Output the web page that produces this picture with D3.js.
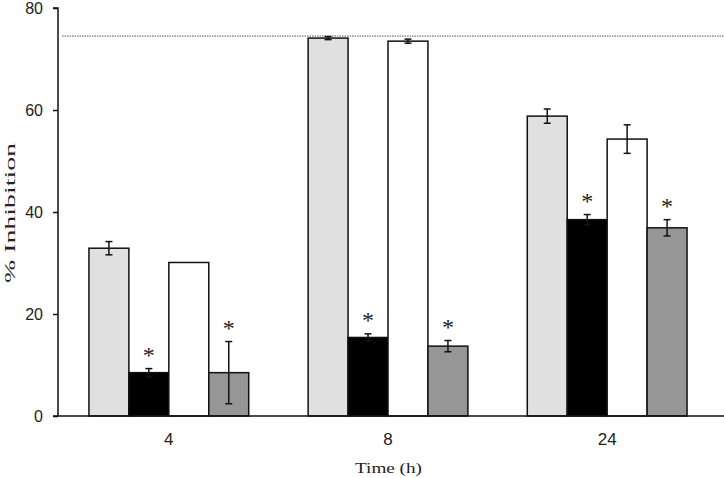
<!DOCTYPE html>
<html><head><meta charset="utf-8">
<script src="https://cdn.jsdelivr.net/npm/d3@7"></script>
<style>body{margin:0;background:#fff}svg{display:block}</style>
</head><body>
<script>
const times = ["4", "8", "24"];
const seriesNames = ["s1", "s2", "s3", "s4"];
const seriesFill = ["#e0e0e0", "#000000", "#ffffff", "#969696"];
const values = [
  [32.9, 8.5, 30.1, 8.5],
  [74.1, 15.4, 73.5, 13.7],
  [58.8, 38.5, 54.3, 36.9]
];
const errors = [
  [1.3, 0.8, 0, 6.1],
  [0.3, 0.7, 0.4, 1.1],
  [1.4, 1.0, 2.8, 1.6]
];
const stars = [
  [false, true, false, true],
  [false, true, false, true],
  [false, true, false, true]
];
const refLine = 74.5;
const yTicks = [0, 20, 40, 60, 80];

const W = 724, H = 478;
const svg = d3.select("body").append("svg").attr("width", W).attr("height", H);

const y = d3.scaleLinear().domain([0, 80]).range([416, 8]);
const x0 = d3.scaleBand().domain(times).range([58, 718]).paddingInner(0.271).paddingOuter(0.1412);
const x1 = d3.scaleBand().domain(seriesNames).range([0, x0.bandwidth()]);

// reference dotted line
svg.append("line").attr("x1", 62).attr("x2", W).attr("y1", y(refLine)).attr("y2", y(refLine))
  .attr("stroke", "#555").attr("stroke-width", 1).attr("stroke-dasharray", "1.5,1");

const groups = svg.selectAll("g.grp").data(times).enter().append("g")
  .attr("transform", d => `translate(${x0(d)},0)`);

groups.each(function(t, gi) {
  const g = d3.select(this);
  seriesNames.forEach((s, si) => {
    const v = values[gi][si], e = errors[gi][si];
    const bx = x1(s), bw = x1.bandwidth();
    g.append("rect").attr("x", bx).attr("y", y(v)).attr("width", bw).attr("height", y(0) - y(v))
      .attr("fill", seriesFill[si]).attr("stroke", "#111").attr("stroke-width", 1.5);
    const cx = bx + bw / 2;
    if (e > 0) {
      g.append("line").attr("x1", cx).attr("x2", cx).attr("y1", y(v + e)).attr("y2", y(v - e))
        .attr("stroke", "#111").attr("stroke-width", 1.5);
      [v + e, v - e].forEach(ev => {
        g.append("line").attr("x1", cx - 3.5).attr("x2", cx + 3.5).attr("y1", y(ev)).attr("y2", y(ev))
          .attr("stroke", "#111").attr("stroke-width", 1.5);
      });
    }
    if (stars[gi][si]) {
      g.append("text").attr("x", cx).attr("y", y(v + e) - 6)
        .attr("text-anchor", "middle").attr("fill", "#222")
        .style("font-family", "'Liberation Serif', 'Times New Roman', serif").style("font-size", "24px")
        .text("*");
    }
  });
});

// axes
const yAxis = d3.axisLeft(y).tickValues(yTicks).tickSize(5).tickPadding(10);
const ya = svg.append("g").attr("transform", "translate(58,0)").call(yAxis);
ya.select(".domain").attr("d", `M-5,${y(80)}H0V${y(0)}`).attr("stroke", "#111").attr("stroke-width", 1.5);
ya.selectAll(".tick line").attr("stroke", "#111").attr("stroke-width", 1.5);
ya.selectAll(".tick text").style("font-family", "'Liberation Sans', Arial, sans-serif").style("font-size", "16px").attr("fill", "#222");

const xAxis = d3.axisBottom(x0).tickSize(0).tickPadding(17);
const xa = svg.append("g").attr("transform", `translate(0,${y(0)})`).call(xAxis);
xa.select(".domain").attr("d", `M53,0H${W}`).attr("stroke", "#111").attr("stroke-width", 1.5);
xa.selectAll(".tick text").style("font-family", "'Liberation Sans', Arial, sans-serif").style("font-size", "17px").attr("fill", "#222");

svg.append("text").attr("x", 388.5).attr("y", 473).attr("text-anchor", "middle")
  .attr("textLength", 67).attr("lengthAdjust", "spacingAndGlyphs")
  .style("font-family", "'Liberation Serif', 'Times New Roman', serif").style("font-size", "15.5px").attr("fill", "#222")
  .text("Time (h)");
svg.append("text").attr("transform", `translate(15,213) rotate(-90)`).attr("text-anchor", "middle")
  .attr("textLength", 140).attr("lengthAdjust", "spacingAndGlyphs")
  .style("font-family", "'Liberation Serif', 'Times New Roman', serif").style("font-size", "15.5px").attr("fill", "#222")
  .text("% Inhibition");
</script>
</body></html>
